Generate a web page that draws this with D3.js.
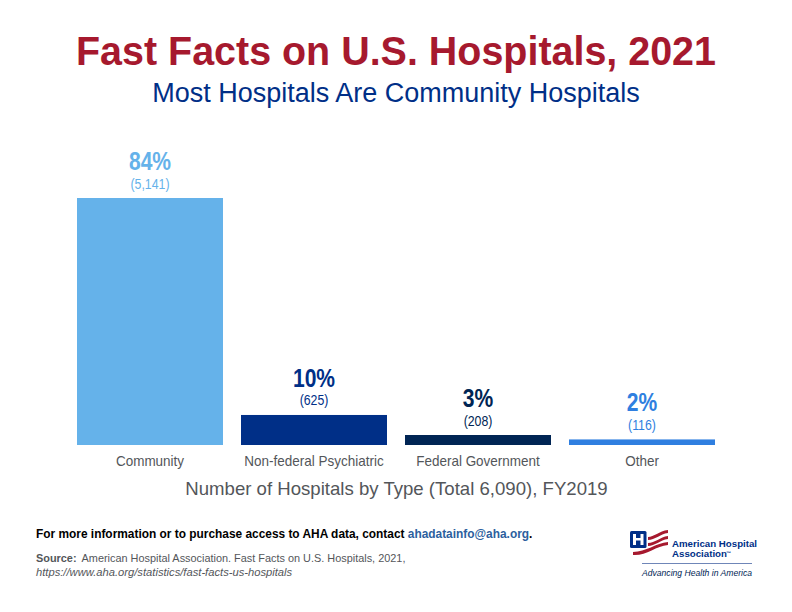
<!DOCTYPE html>
<html>
<head>
<meta charset="utf-8">
<script src="https://cdn.jsdelivr.net/npm/d3@7"></script>
<style>
	html, body { margin: 0; padding: 0; background: #fff; }
	text { font-family: "Liberation Sans", Arial, sans-serif; }
</style>
</head>
<body>
<div id="chart"></div>
<script>
var categories = ["Community", "Non-federal Psychiatric", "Federal Government", "Other"];
var hospitals = [5141, 625, 208, 116];
var percents = ["84%", "10%", "3%", "2%"];
var countLabels = ["(5,141)", "(625)", "(208)", "(116)"];
var barColors = ["#65b2ea", "#002f87", "#002554", "#2f7fe0"];

var width = 792, height = 612;
var red = "#a6192e", navy = "#002f87", grey = "#53565a";

var svg = d3.select("#chart").append("svg")
	.attr("width", width)
	.attr("height", height)
	.style("display", "block");

var x = d3.scaleBand()
	.domain(categories)
	.range([77, 715])
	.paddingInner(18 / 164)
	.paddingOuter(0);

var y = d3.scaleLinear()
	.domain([0, 5141])
	.range([445, 198]);

function label(txt, xPos, yPos, size, color, weight, anchor) {
	return svg.append("text")
		.attr("x", xPos)
		.attr("y", yPos)
		.attr("text-anchor", anchor || "middle")
		.attr("font-size", size)
		.attr("font-weight", weight || "normal")
		.attr("fill", color)
		.text(txt);
}

// the original uses a condensed face, so squeeze the text horizontally
function squeezed(d, i, dy, sx) {
	return "translate(" + (x(categories[i]) + x.bandwidth() / 2) + "," + (y(d) - dy) + ") scale(" + sx + ",1)";
}

// titles
label("Fast Facts on U.S. Hospitals, 2021", 396, 65, 41, red, "bold")
	.attr("textLength", 640)
	.attr("lengthAdjust", "spacingAndGlyphs");
label("Most Hospitals Are Community Hospitals", 396, 102, 27, navy);

// bars
svg.selectAll("rect.bar")
	.data(hospitals)
	.enter()
	.append("rect")
	.attr("class", "bar")
	.attr("x", function (d, i) { return x(categories[i]); })
	.attr("y", function (d) { return y(d); })
	.attr("width", x.bandwidth())
	.attr("height", function (d) { return y(0) - y(d); })
	.attr("fill", function (d, i) { return barColors[i]; });

// percent and count above each bar
svg.selectAll("text.pct")
	.data(hospitals)
	.enter()
	.append("text")
	.attr("class", "pct")
	.attr("transform", function (d, i) { return squeezed(d, i, 28, 0.81); })
	.attr("text-anchor", "middle")
	.attr("font-size", 26)
	.attr("font-weight", "bold")
	.attr("fill", function (d, i) { return barColors[i]; })
	.text(function (d, i) { return percents[i]; });

svg.selectAll("text.count")
	.data(hospitals)
	.enter()
	.append("text")
	.attr("class", "count")
	.attr("transform", function (d, i) { return squeezed(d, i, 9.5, 0.85); })
	.attr("text-anchor", "middle")
	.attr("font-size", 14.5)
	.attr("fill", function (d, i) { return barColors[i]; })
	.text(function (d, i) { return countLabels[i]; });

// category axis, no line or ticks in the original
var axis = svg.append("g")
	.attr("transform", "translate(0,445)")
	.call(d3.axisBottom(x).tickSize(0).tickPadding(10));
axis.select(".domain").remove();
axis.selectAll("text")
	.attr("font-family", "'Liberation Sans', Arial, sans-serif")
	.attr("font-size", 15)
	.attr("fill", grey)
	.attr("transform", "scale(0.9,1)");

label("Number of Hospitals by Type (Total 6,090), FY2019", 396.5, 495, 18.6, grey);

// footer
var more = label("For more information or to purchase access to AHA data, contact ", 36, 538, 11.9, "#000", "bold", "start");
more.append("tspan").attr("fill", "#2c5f9e").text("ahadatainfo@aha.org");
more.append("tspan").text(".");

var src = label("Source: ", 36, 562, 10.9, grey, "bold", "start");
src.append("tspan").attr("font-weight", "normal").attr("dx", 2).text("American Hospital Association. Fast Facts on U.S. Hospitals, 2021,");
label("https://www.aha.org/statistics/fast-facts-us-hospitals", 36, 576, 11.2, grey, "normal", "start")
	.attr("font-style", "italic");

// logo
var logo = svg.append("g").attr("transform", "translate(630,530)");
logo.append("rect").attr("x", 0).attr("y", 1).attr("width", 16.5).attr("height", 17).attr("rx", 1.5)
	.attr("fill", "#002f87");
logo.append("path").attr("d", "M3 4h3v4h4.5V4h3v11h-3v-4.5H6V15H3z").attr("fill", "#fff");
["M18 7C24 7 29 1 38 0v3C30 4 25 10 18 10z",
	"M18 13C25 13 30 7 38 6v3C30 10 25 16 18 16z",
	"M3 22C16 22 26 13 38 12v3C26 16 16 26 3 25z"].forEach(function (d) {
	logo.append("path").attr("d", d).attr("fill", red);
});

label("American Hospital", 672, 547, 9.7, navy, "bold", "start");
label("Association", 672, 557, 9.7, navy, "bold", "start");
label("\u2122", 726, 555, 5, navy, "bold", "start");
svg.append("line").attr("x1", 642).attr("x2", 752).attr("y1", 563.5).attr("y2", 563.5)
	.attr("stroke", "#6f86b8").attr("stroke-width", 1);
label("Advancing Health in America", 642, 576, 8.6, "#002554", "normal", "start")
	.attr("font-style", "italic");
</script>
</body>
</html>
